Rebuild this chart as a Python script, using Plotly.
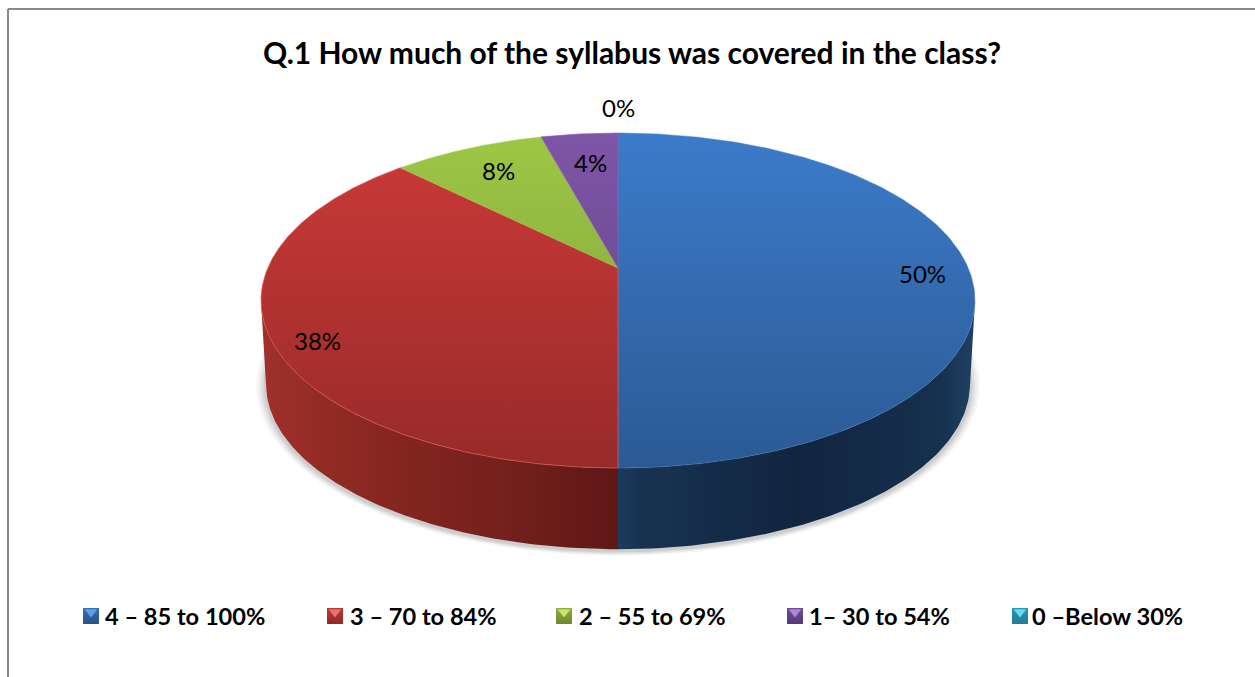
import numpy as np
import plotly.graph_objects as go

# ---- data ----
categories = ["4 – 85 to 100%", "3 – 70 to 84%", "2 – 55 to 69%", "1– 30 to 54%", "0 –Below 30%"]
shares = [50.0, 37.5, 8.3, 4.2, 0.0]
labels = ["50%", "38%", "8%", "4%", "0%"]
title_text = "Q.1 How much of the syllabus was covered in the class?"

# ---- styles ----
top_hi = ["#3c7bca", "#cc3a38", "#9dc746", "#7f55a8", "#3cb4d0"]
top_lo = ["#2b5a94", "#982a2a", "#7d9c37", "#5c417d", "#2a8aa4"]
rim = ["rgba(70,125,195,0.5)", "rgba(222,85,78,0.75)", "rgba(165,205,80,0.5)", "rgba(150,95,190,0.7)", "#3cb4d0"]
side_scale = [
    [[0, "#1c3b60"], [0.06, "#183352"], [0.5, "#11253f"], [0.9, "#16304f"], [1, "#1f4164"]],
    [[0, "#a0302b"], [0.35, "#86261f"], [0.7, "#73201c"], [1, "#5f1716"]],
]
swatch_body = ["#3a70b0", "#b83a38", "#8fac40", "#6f4c94", "#2f96b0"]
swatch_dark = ["#2a5288", "#8f2a2a", "#6f8830", "#553a75", "#247a92"]
swatch_tip = ["#5aa2ea", "#f26e6a", "#c6e664", "#ae86de", "#5fdcf8"]
legend_marker_x = [91, 335, 564, 795, 1020]
legend_text_x = [103, 348, 577, 807, 1030]
legend_y = 616
label_radius = [0.87, 0.87, 0.655, 0.59, 1.23]
label_yshift = [-5, -15, 15, 21, 0]
label_xshift = [0, 0, -16, -3, 0]
FONT = "Lato, Carlito, Calibri, sans-serif"

# ---- projection of the tilted disc ----
CX, TOP_Y, LOW_Y = 618.0, 268.0, 352.0
A, B, P = 161.2, 350.2, 0.194
LOW_SCALE = 0.986


def project(turn, radius=1.0, level=0):
    """turn: fraction of a full circle clockwise from 12 o'clock."""
    a = 2 * np.pi * np.asarray(turn, dtype=float)
    u, v = radius * np.sin(a), -radius * np.cos(a)
    d = 1 - P * v
    s = LOW_SCALE if level else 1.0
    y0 = LOW_Y if level else TOP_Y
    return CX + s * B * u / d, y0 + s * A * v / d


fig = go.Figure()

# soft shadow beneath the base
tt = np.linspace(0, 1, 361)
for grow, alpha in [(1.028, 0.05), (1.021, 0.07), (1.014, 0.09), (1.007, 0.12)]:
    sx, sy = project(tt, level=1)
    fig.add_trace(go.Scatter(
        x=CX + (sx - CX) * grow, y=384 + (sy - 384) * grow + 2, mode="lines", fill="toself",
        fillcolor=f"rgba(90,90,90,{alpha})", line=dict(width=0), hoverinfo="skip", showlegend=False))

total = sum(shares)
edges = np.concatenate([[0], np.cumsum(shares) / total])

# visible wall of each slice (front of the silhouette tangent only)
for i, (t0, t1) in enumerate(zip(edges[:-1], edges[1:])):
    if t1 <= t0:
        continue
    t = np.linspace(t0, t1, 240)
    t = t[-np.cos(2 * np.pi * t) >= P]
    if len(t) < 2:
        continue
    xt, yt = project(t)
    xb, yb = project(t[::-1], level=1)
    x = np.concatenate([xt, xb])
    y = np.concatenate([yt, yb])
    fig.add_trace(go.Scatter(
        x=x, y=y, mode="lines", fill="toself",
        fillgradient=dict(type="horizontal", colorscale=side_scale[i] if i < 2 else side_scale[1],
                          start=float(x.min()), stop=float(x.max())),
        line=dict(width=0), hoverinfo="skip", showlegend=False))

# top faces
for i, (t0, t1) in enumerate(zip(edges[:-1], edges[1:])):
    if t1 <= t0:
        continue
    t = np.linspace(t0, t1, 240)
    xa, ya = project(t)
    x = np.concatenate([[CX], xa, [CX]])
    y = np.concatenate([[TOP_Y], ya, [TOP_Y]])
    fig.add_trace(go.Scatter(
        x=x, y=y, mode="lines", fill="toself",
        fillgradient=dict(type="vertical", colorscale=[[0, top_hi[i]], [1, top_lo[i]]],
                          start=133, stop=468),
        line=dict(width=1, color=rim[i]), hoverinfo="skip", showlegend=False))

# legend swatches
for i, name in enumerate(categories):
    fig.add_trace(go.Scatter(
        x=[legend_marker_x[i]], y=[legend_y], mode="markers", name=name,
        marker=dict(symbol="square", size=16, color=swatch_body[i],
                    gradient=dict(type="vertical", color=swatch_dark[i]), line=dict(width=0)),
        hoverinfo="skip", showlegend=False))
    fig.add_trace(go.Scatter(
        x=[legend_marker_x[i]], y=[legend_y - 4], mode="markers",
        marker=dict(symbol="triangle-down", size=11, color=swatch_tip[i], line=dict(width=0)),
        hoverinfo="skip", showlegend=False))
    fig.add_annotation(x=legend_text_x[i], y=legend_y, text=f"<b>{name}</b>", showarrow=False,
                       xanchor="left", yanchor="middle", xref="x", yref="y",
                       font=dict(family=FONT, size=23.6, color="#000000"))

# data labels, placed from each slice's mid angle
for i, lab in enumerate(labels):
    mid = (edges[i] + edges[i + 1]) / 2
    lx, ly = project(mid, radius=label_radius[i])
    fig.add_annotation(x=float(lx), y=float(ly), text=lab, showarrow=False, xanchor="center", yanchor="middle",
                       xref="x", yref="y", xshift=label_xshift[i], yshift=label_yshift[i],
                       font=dict(family=FONT, size=24, color="#000000"))

# title
fig.add_annotation(x=632, y=52, text=f"<b>{title_text}</b>", showarrow=False, xanchor="center", yanchor="middle",
                   xref="x", yref="y", font=dict(family=FONT, size=30, color="#000000"))

# chart frame (open at right and bottom)
frame = dict(type="line", xref="x", yref="y", line=dict(color="#8a8a8a", width=2))
fig.add_shape(x0=8, x1=1255, y0=9, y1=9, **frame)
fig.add_shape(x0=8, x1=8, y0=9, y1=677, **frame)

fig.update_layout(
    width=1255, height=677, margin=dict(l=0, r=0, t=0, b=0),
    paper_bgcolor="#ffffff", plot_bgcolor="#ffffff", showlegend=False,
    xaxis=dict(range=[0, 1255], visible=False, fixedrange=True),
    yaxis=dict(range=[677, 0], visible=False, fixedrange=True),
)

fig.write_html("out.html", config=dict(displayModeBar=False),
               post_script="document.body.style.margin='0';document.documentElement.style.overflow='hidden';")
